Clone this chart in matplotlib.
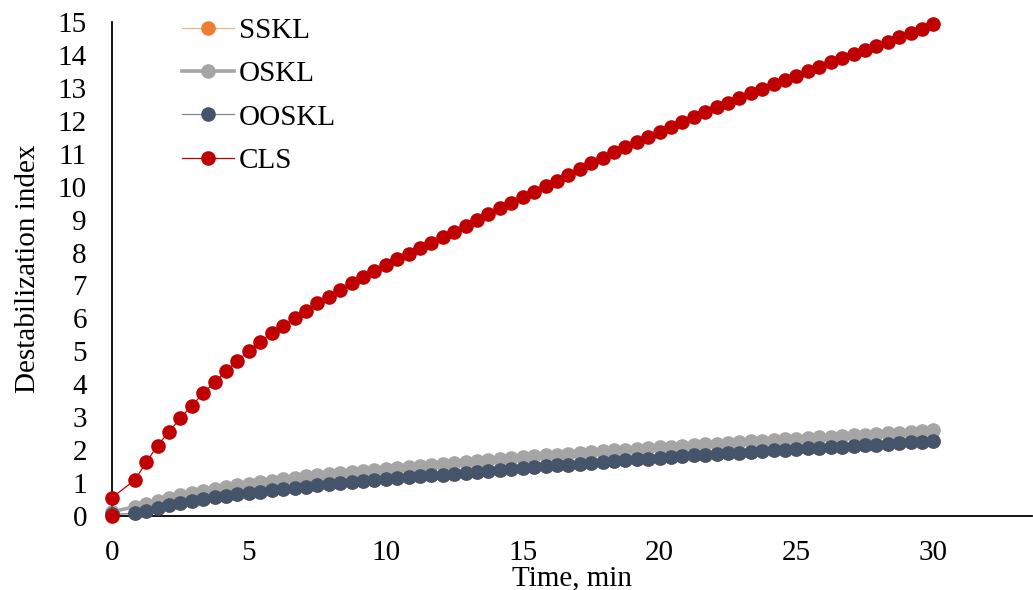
import matplotlib.pyplot as plt

plt.rcParams['font.family'] = ['Liberation Serif', 'DejaVu Serif']

# sampling times in seconds (25 s step, 25 s reading not recorded)
time_s = [0, 50, 75, 100, 125, 150, 175, 200, 225, 250, 275, 300, 325, 350, 375,
          400, 425, 450, 475, 500, 525, 550, 575, 600, 625, 650, 675, 700, 725, 750,
          775, 800, 825, 850, 875, 900, 925, 950, 975, 1000, 1025, 1050, 1075, 1100,
          1125, 1150, 1175, 1200, 1225, 1250, 1275, 1300, 1325, 1350, 1375, 1400,
          1425, 1450, 1475, 1500, 1525, 1550, 1575, 1600, 1625, 1650, 1675, 1700,
          1725, 1750, 1775, 1800]

sskl = [0.05, 0.08, 0.16, 0.24, 0.33, 0.40, 0.46, 0.52, 0.57, 0.61, 0.66, 0.70, 0.74,
        0.78, 0.82, 0.86, 0.89, 0.93, 0.96, 0.99, 1.03, 1.06, 1.09, 1.12, 1.15, 1.18,
        1.21, 1.24, 1.26, 1.29, 1.32, 1.35, 1.38, 1.40, 1.43, 1.46, 1.49, 1.51, 1.54,
        1.56, 1.59, 1.61, 1.64, 1.66, 1.69, 1.72, 1.74, 1.77, 1.79, 1.81, 1.84, 1.86,
        1.88, 1.90, 1.92, 1.94, 1.96, 1.99, 2.01, 2.03, 2.05, 2.07, 2.09, 2.11, 2.13,
        2.15, 2.17, 2.19, 2.21, 2.24, 2.26, 2.28]

oskl = [0.13, 0.28, 0.37, 0.46, 0.55, 0.63, 0.70, 0.76, 0.82, 0.87, 0.93, 0.98, 1.03,
        1.07, 1.12, 1.16, 1.20, 1.24, 1.28, 1.31, 1.35, 1.38, 1.41, 1.44, 1.47, 1.50,
        1.53, 1.56, 1.59, 1.62, 1.65, 1.68, 1.70, 1.73, 1.76, 1.79, 1.81, 1.84, 1.86,
        1.89, 1.91, 1.94, 1.96, 1.99, 2.01, 2.04, 2.06, 2.09, 2.11, 2.13, 2.16, 2.18,
        2.20, 2.22, 2.24, 2.27, 2.29, 2.31, 2.33, 2.35, 2.37, 2.39, 2.41, 2.43, 2.45,
        2.47, 2.49, 2.51, 2.53, 2.55, 2.57, 2.60]

ooskl = [0.05, 0.08, 0.16, 0.24, 0.33, 0.40, 0.46, 0.52, 0.57, 0.61, 0.66, 0.70, 0.74,
         0.78, 0.82, 0.86, 0.89, 0.93, 0.96, 0.99, 1.03, 1.06, 1.09, 1.12, 1.15, 1.18,
         1.21, 1.24, 1.26, 1.29, 1.32, 1.35, 1.38, 1.40, 1.43, 1.46, 1.49, 1.51, 1.54,
         1.56, 1.59, 1.61, 1.64, 1.66, 1.69, 1.72, 1.74, 1.77, 1.79, 1.81, 1.84, 1.86,
         1.88, 1.90, 1.92, 1.94, 1.96, 1.99, 2.01, 2.03, 2.05, 2.07, 2.09, 2.11, 2.13,
         2.15, 2.17, 2.19, 2.21, 2.24, 2.26, 2.28]

# CLS has two readings at t = 0
cls_time_s = [0] + time_s
cls = [0.0, 0.56, 1.09, 1.63, 2.14, 2.56, 2.97, 3.35, 3.73, 4.06, 4.40, 4.71, 5.01,
       5.29, 5.55, 5.78, 6.00, 6.23, 6.46, 6.66, 6.86, 7.07, 7.25, 7.45, 7.62, 7.80,
       7.96, 8.13, 8.30, 8.46, 8.63, 8.81, 8.99, 9.16, 9.34, 9.50, 9.68, 9.85, 10.02,
       10.18, 10.36, 10.53, 10.71, 10.88, 11.04, 11.20, 11.37, 11.52, 11.67, 11.82,
       11.97, 12.12, 12.27, 12.41, 12.55, 12.68, 12.84, 12.97, 13.12, 13.24, 13.37,
       13.51, 13.64, 13.78, 13.90, 14.03, 14.15, 14.28, 14.40, 14.54, 14.66, 14.79,
       14.93]

t_min = [s / 60 for s in time_s]
cls_t_min = [s / 60 for s in cls_time_s]

fig = plt.figure(figsize=(10.33, 5.90), dpi=100)
ax = fig.add_axes([0.1084, 0.1254, 0.8906, 0.8373])

fs = 21
ms = 9.5
ax.plot(t_min, sskl, color='#F4B183', lw=0.9, marker='o', ms=ms,
        mfc='#ED7D31', mec='#ED7D31', label='SSKL', clip_on=False, zorder=2)
ax.plot(t_min, oskl, color='#A5A5A5', lw=2.6, marker='o', ms=ms,
        mfc='#A5A5A5', mec='#A5A5A5', label='OSKL', clip_on=False, zorder=3)
ax.plot(t_min, ooskl, color='#7F8794', lw=0.9, marker='o', ms=ms,
        mfc='#44546A', mec='#44546A', label='OOSKL', clip_on=False, zorder=4)
ax.plot(cls_t_min, cls, color='#C00000', lw=0.9, marker='o', ms=ms,
        mfc='#C00000', mec='#C00000', label='CLS', clip_on=False, zorder=5)

ax.set_xlim(0, 33.6)
ax.set_ylim(0, 15)
ax.set_xticks([0, 5, 10, 15, 20, 25, 30])
ax.set_yticks(range(0, 16))
ax.tick_params(length=0, labelsize=fs)
ax.tick_params(axis='y', pad=18)
ax.tick_params(axis='x', pad=17)

for side in ['top', 'right']:
    ax.spines[side].set_visible(False)
for side in ['left', 'bottom']:
    ax.spines[side].set_linewidth(1.3)
    ax.spines[side].set_color('black')

ax.set_xlabel('Time, min', fontsize=fs, labelpad=0)
ax.set_ylabel('Destabilization index', fontsize=fs, labelpad=12)

ax.legend(loc='upper left', bbox_to_anchor=(0.159, 1.0), bbox_transform=fig.transFigure,
          frameon=False, fontsize=fs, handlelength=1.8, handletextpad=0.15,
          labelspacing=0.58, borderaxespad=0.2)

fig.savefig('out.png', dpi=100)
